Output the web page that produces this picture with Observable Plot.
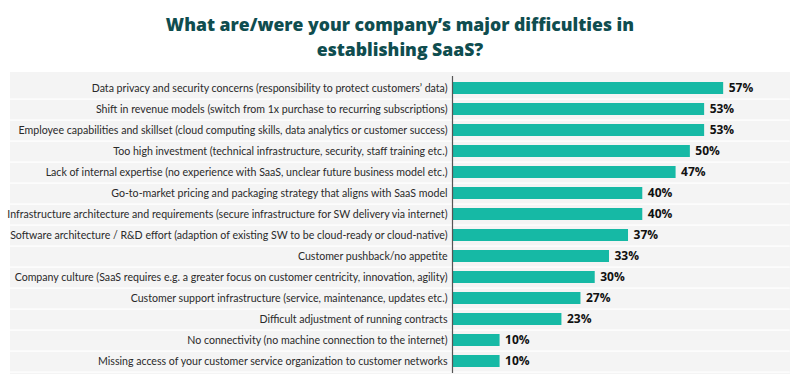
<!DOCTYPE html>
<html>
<head>
<meta charset="utf-8">
<script src="https://cdn.jsdelivr.net/npm/d3@7"></script>
<script src="https://cdn.jsdelivr.net/npm/@observablehq/plot@0.6"></script>
<style>
  body { margin: 0; background: #fff; width: 800px; height: 380px; overflow: hidden; }
  #title { height: 72px; box-sizing: border-box; padding-top: 12px; text-align: center;
    font-family: "Open Sans", sans-serif; font-weight: 800; font-size: 17.6px; line-height: 25px; color: #0f4d4f; }
  #chart { width: 800px; }
  #chart svg { display: block; }
</style>
</head>
<body>
<div id="title">What are/were your company’s major difficulties in<br>establishing SaaS?</div>
<div id="chart"></div>
<script>
const categories = [
  "Data privacy and security concerns (responsibility to protect customers’ data)",
  "Shift in revenue models (switch from 1x purchase to recurring subscriptions)",
  "Employee capabilities and skillset (cloud computing skills, data analytics or customer success)",
  "Too high investment (technical infrastructure, security, staff training etc.)",
  "Lack of internal expertise (no experience with SaaS, unclear future business model etc.)",
  "Go-to-market pricing and packaging strategy that aligns with SaaS model",
  "Infrastructure architecture and requirements (secure infrastructure for SW delivery via internet)",
  "Software architecture / R&D effort (adaption of existing SW to be cloud-ready or cloud-native)",
  "Customer pushback/no appetite",
  "Company culture (SaaS requires e.g. a greater focus on customer centricity, innovation, agility)",
  "Customer support infrastructure (service, maintenance, updates etc.)",
  "Difficult adjustment of running contracts",
  "No connectivity (no machine connection to the internet)",
  "Missing access of your customer service organization to customer networks"
];
const values = [57, 53, 53, 50, 47, 40, 40, 37, 33, 30, 27, 23, 10, 10];
const data = categories.map((c, i) => ({category: c, value: values[i]}));

const chart = Plot.plot({
  width: 800,
  height: 302,
  marginLeft: 452,
  marginRight: 15,
  marginTop: 4,
  marginBottom: 1,
  style: {fontFamily: "Lato, sans-serif",
    background: "linear-gradient(to right, #fff 10px, #f4f4f4 10px, #f4f4f4 790px, #fff 790px)"},
  x: {domain: [0, 70], axis: null},
  y: {domain: categories, paddingInner: 0.44, paddingOuter: 0.22, label: null},
  marks: [
    Plot.ruleY(categories, {y: d => d, dy: 10.6, stroke: "#ffffff", strokeWidth: 1.2, x1: -93, x2: 71, clip: false}),
    Plot.axisY({tickSize: 0, tickPadding: 5, fontSize: 10.6, color: "#2a2a2a", label: null, textOverflow: null, lineWidth: Infinity}),
    Plot.barX(data, {x: "value", y: "category", fill: "#16b9a5"}),
    Plot.ruleX([0], {stroke: "#555", strokeWidth: 1.2}),
    Plot.text(data, {x: "value", y: "category", text: d => d.value + "%", textAnchor: "start", dx: 5,
      fontWeight: "bold", fontSize: 12, fill: "#111", fontFamily: "Open Sans, sans-serif"})
  ]
});
document.getElementById("chart").appendChild(chart);
</script>
</body>
</html>
